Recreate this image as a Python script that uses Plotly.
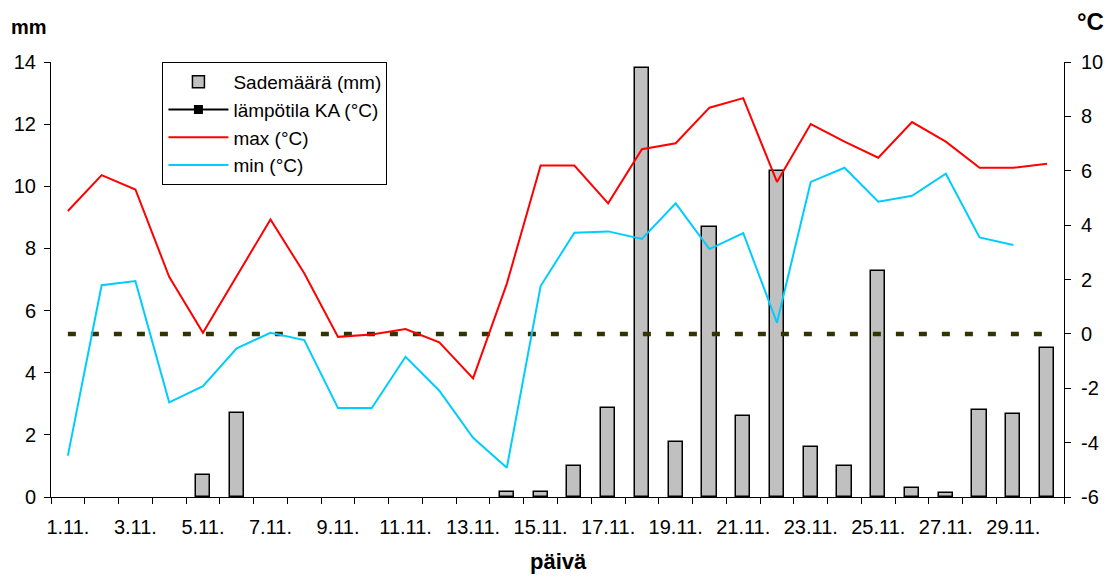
import plotly.graph_objects as go

days = ["1.11.", "2.11.", "3.11.", "4.11.", "5.11.", "6.11.", "7.11.", "8.11.", "9.11.", "10.11.",
        "11.11.", "12.11.", "13.11.", "14.11.", "15.11.", "16.11.", "17.11.", "18.11.", "19.11.", "20.11.",
        "21.11.", "22.11.", "23.11.", "24.11.", "25.11.", "26.11.", "27.11.", "28.11.", "29.11.", "30.11."]

rain_mm = [0, 0, 0, 0, 0.7, 2.7, 0, 0, 0, 0,
           0, 0, 0, 0.15, 0.15, 1.0, 2.85, 13.8, 1.78, 8.7,
           2.62, 10.48, 1.6, 1.0, 7.28, 0.3, 0.12, 2.8, 2.68, 4.78]

avg_temp = [0, 0, 0, 0, 0, 0, 0, 0, 0, 0,
            0, 0, 0, 0, 0, 0, 0, 0, 0, 0,
            0, 0, 0, 0, 0, 0, 0, 0, 0, 0]

max_temp = [4.52, 5.84, 5.31, 2.1, 0.04, 2.13, 4.21, 2.23, -0.11, -0.02,
            0.18, -0.31, -1.64, 1.85, 6.19, 6.19, 4.8, 6.79, 7.01, 8.32,
            8.67, 5.59, 7.72, 7.07, 6.48, 7.79, 7.07, 6.11, 6.11, 6.26]

min_temp = [-4.48, 1.79, 1.94, -2.52, -1.92, -0.53, 0.04, -0.23, -2.73, -2.73,
            -0.84, -2.09, -3.82, -4.92, 1.76, 3.72, 3.77, 3.49, 4.8, 3.12,
            3.71, 0.41, 5.59, 6.11, 4.86, 5.08, 5.89, 3.55, 3.27, None]

mm_ticks = [0, 2, 4, 6, 8, 10, 12, 14]
temp_ticks = [-6, -4, -2, 0, 2, 4, 6, 8, 10]
temp_tick_text = ["-6", "-4", "-2", "0", "2", "4", "6", "8", "10"]

tick_text = [d if i % 2 == 0 else "" for i, d in enumerate(days)]
bar_line_w = [1.5 if v > 0 else 0 for v in rain_mm]

FONT = "Liberation Sans, Arial, sans-serif"

fig = go.Figure()

fig.add_trace(go.Bar(
    x=days, y=rain_mm, showlegend=False,
    marker=dict(color="#C0C0C0", line=dict(color="black", width=bar_line_w)),
    width=0.42, yaxis="y",
))
fig.add_trace(go.Bar(
    x=[None], y=[None], name="Sademäärä (mm)",
    marker=dict(color="#C0C0C0", line=dict(color="black", width=1.5)),
    yaxis="y",
))

fig.add_trace(go.Scatter(
    x=days, y=avg_temp, mode="lines", showlegend=False,
    line=dict(color="#333300", width=4.5, dash="8px,15px"), yaxis="y2",
))
fig.add_trace(go.Scatter(
    x=[None], y=[None], mode="lines+markers", name="lämpötila KA (°C)",
    line=dict(color="black", width=2), marker=dict(symbol="square", size=9, color="black"),
    yaxis="y2",
))

fig.add_trace(go.Scatter(
    x=days, y=max_temp, mode="lines", name="max (°C)",
    line=dict(color="#FF0000", width=2), yaxis="y2",
))
fig.add_trace(go.Scatter(
    x=days, y=min_temp, mode="lines", name="min (°C)",
    line=dict(color="#00CCFF", width=2), yaxis="y2",
))

fig.update_layout(
    width=1120, height=577,
    margin=dict(l=51, r=56, t=62, b=80),
    paper_bgcolor="white", plot_bgcolor="white",
    font=dict(family=FONT, size=20, color="black"),
    showlegend=True,
    bargap=0, barmode="overlay",
    legend=dict(
        x=0.11, y=1.0, xanchor="left", yanchor="top",
        bgcolor="white", bordercolor="black", borderwidth=1,
        font=dict(family=FONT, size=19, color="black"),
        tracegroupgap=0, itemwidth=60,
    ),
    xaxis=dict(
        type="category", range=[-0.5, 29.5],
        tickmode="array", tickvals=days, ticktext=tick_text,
        tickson="boundaries", ticks="outside", ticklen=6, tickcolor="black",
        ticklabelstandoff=12,
        showline=True, linecolor="black", linewidth=1,
        showgrid=False, zeroline=False,
        tickfont=dict(size=20), tickangle=0,
    ),
    yaxis=dict(
        range=[0, 14], tickmode="array", tickvals=mm_ticks,
        ticks="outside", ticklen=6, tickcolor="black", ticklabelstandoff=4,
        showline=True, linecolor="black", linewidth=1,
        showgrid=False, zeroline=False, tickfont=dict(size=20),
    ),
    yaxis2=dict(
        range=[-6, 10], tickmode="array", tickvals=temp_ticks, ticktext=temp_tick_text,
        overlaying="y", side="right", anchor="x",
        ticks="outside", ticklen=6, tickcolor="black", ticklabelstandoff=6,
        showline=True, linecolor="black", linewidth=1,
        showgrid=False, zeroline=False, tickfont=dict(size=20),
    ),
    annotations=[
        dict(text="<b>mm</b>", x=-0.0217, y=1.08, xref="paper", yref="paper",
             showarrow=False, font=dict(size=20), xanchor="center", yanchor="middle"),
        dict(text="<b>°C</b>", x=1.0266, y=1.092, xref="paper", yref="paper",
             showarrow=False, font=dict(size=24), xanchor="center", yanchor="middle"),
        dict(text="<b>päivä</b>", x=0.5005, y=-0.149, xref="paper", yref="paper",
             showarrow=False, font=dict(size=22), xanchor="center", yanchor="middle"),
    ],
)

fig.write_html("out.html", config={"displayModeBar": False},
               post_script="document.body.style.margin='0';")
